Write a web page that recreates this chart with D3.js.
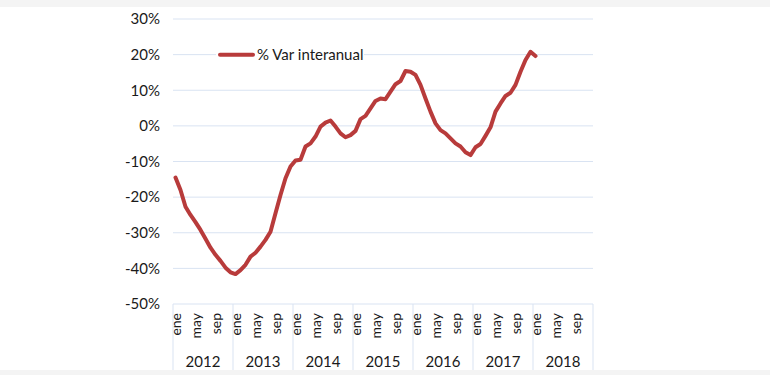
<!DOCTYPE html>
<html>
<head>
<meta charset="utf-8">
<script src="https://cdn.jsdelivr.net/npm/d3@7"></script>
<style>
  body { margin: 0; background: #f4f4f4; }
  text { font-family: Lato, "Open Sans", sans-serif; fill: #1a1a1a; }
</style>
</head>
<body>
<div id="chart"></div>
<script>
// % var interanual, monthly, ene 2012 .. ene 2018
var years = ["2012", "2013", "2014", "2015", "2016", "2017", "2018"];
var monthLabels = ["ene", "may", "sep"];
var monthIdx = [0, 4, 8];
var yTicks = [-50, -40, -30, -20, -10, 0, 10, 20, 30];
var seriesName = "% Var interanual";
var values = [
  -14.5, -18, -22.7, -25, -27, -29.2, -31.7, -34.2, -36.2, -37.9, -39.8, -41.1,
  -41.6, -40.5, -39, -36.7, -35.6, -33.9, -32, -29.7, -24.5, -19.4, -14.7, -11.4,
  -9.7, -9.5, -5.8, -4.9, -3, -0.2, 0.9, 1.5, -0.2, -2.1, -3.2, -2.6,
  -1.4, 1.9, 2.8, 4.9, 7.0, 7.7, 7.5, 9.6, 11.7, 12.6, 15.4, 15.2,
  14.3, 11.5, 7.7, 4.0, 0.7, -1.2, -2.1, -3.5, -4.9, -5.8, -7.4, -8.2,
  -6.0, -5.1, -2.8, -0.4, 4.0, 6.3, 8.4, 9.3, 11.5, 15.2, 18.5, 20.8,
  19.6
];

var width = 770, height = 375;
var plotLeft = 173, plotRight = 593, plotTop = 19, plotBottom = 304;
var lineColor = "#b83b3b", gridColor = "#d9e3f2";

var svg = d3.select("#chart").append("svg")
    .attr("width", width)
    .attr("height", height);

svg.append("rect")
    .attr("x", 0).attr("y", 7)
    .attr("width", width).attr("height", 363)
    .attr("fill", "white");

var nMonths = years.length * 12;
var x = d3.scaleLinear().domain([0, nMonths]).range([plotLeft, plotRight]);
var y = d3.scaleLinear().domain([-50, 30]).range([plotBottom, plotTop]);

// horizontal grid
svg.selectAll(".grid")
    .data(yTicks)
    .enter().append("line")
      .attr("x1", plotLeft).attr("x2", plotRight)
      .attr("y1", function(d) { return y(d); })
      .attr("y2", function(d) { return y(d); })
      .attr("stroke", gridColor)
      .attr("stroke-width", 1);

svg.selectAll(".ylab")
    .data(yTicks)
    .enter().append("text")
      .attr("x", 160)
      .attr("y", function(d) { return y(d); })
      .attr("dy", "0.35em")
      .attr("text-anchor", "end")
      .style("font-size", "15px")
      .text(function(d) { return d + "%"; });

// year separators below the axis
var seps = d3.range(years.length + 1);
svg.selectAll(".sep")
    .data(seps)
    .enter().append("line")
      .attr("x1", function(d) { return x(d * 12); })
      .attr("x2", function(d) { return x(d * 12); })
      .attr("y1", plotBottom).attr("y2", 370)
      .attr("stroke", gridColor)
      .attr("stroke-width", 1);

var ticks = [];
years.forEach(function(yr, i) {
  monthIdx.forEach(function(m, j) {
    ticks.push({ i: i * 12 + m, label: monthLabels[j] });
  });
});

svg.selectAll(".mlab")
    .data(ticks)
    .enter().append("text")
      .attr("transform", function(d) {
        return "translate(" + (x(d.i + 0.5) + 0.5) + "," + 313 + ") rotate(-90)";
      })
      .attr("text-anchor", "end")
      .attr("dy", "0.35em")
      .style("font-size", "14px")
      .text(function(d) { return d.label; });

svg.selectAll(".ylabx")
    .data(years)
    .enter().append("text")
      .attr("x", function(d, i) { return x(i * 12 + 6); })
      .attr("y", 362)
      .attr("dy", "0.35em")
      .attr("text-anchor", "middle")
      .style("font-size", "15px")
      .text(function(d) { return d; });

// the series
var line = d3.line()
    .x(function(d, i) { return x(i + 0.5); })
    .y(function(d) { return y(d); });

svg.append("path")
    .datum(values)
    .attr("d", line)
    .attr("fill", "none")
    .attr("stroke", lineColor)
    .attr("stroke-width", 4)
    .attr("stroke-linejoin", "round")
    .attr("stroke-linecap", "round");

// legend
var legend = svg.append("g").attr("transform", "translate(218," + y(20) + ")");
legend.append("rect")
    .attr("x", -2).attr("y", -8)
    .attr("width", 148).attr("height", 16)
    .attr("fill", "white");
legend.append("line")
    .attr("x1", 2).attr("x2", 35)
    .attr("y1", 0).attr("y2", 0)
    .attr("stroke", lineColor)
    .attr("stroke-width", 4)
    .attr("stroke-linecap", "round");
legend.append("text")
    .attr("x", 39)
    .attr("dy", "0.35em")
    .style("font-size", "15px")
    .text(seriesName);
</script>
</body>
</html>
